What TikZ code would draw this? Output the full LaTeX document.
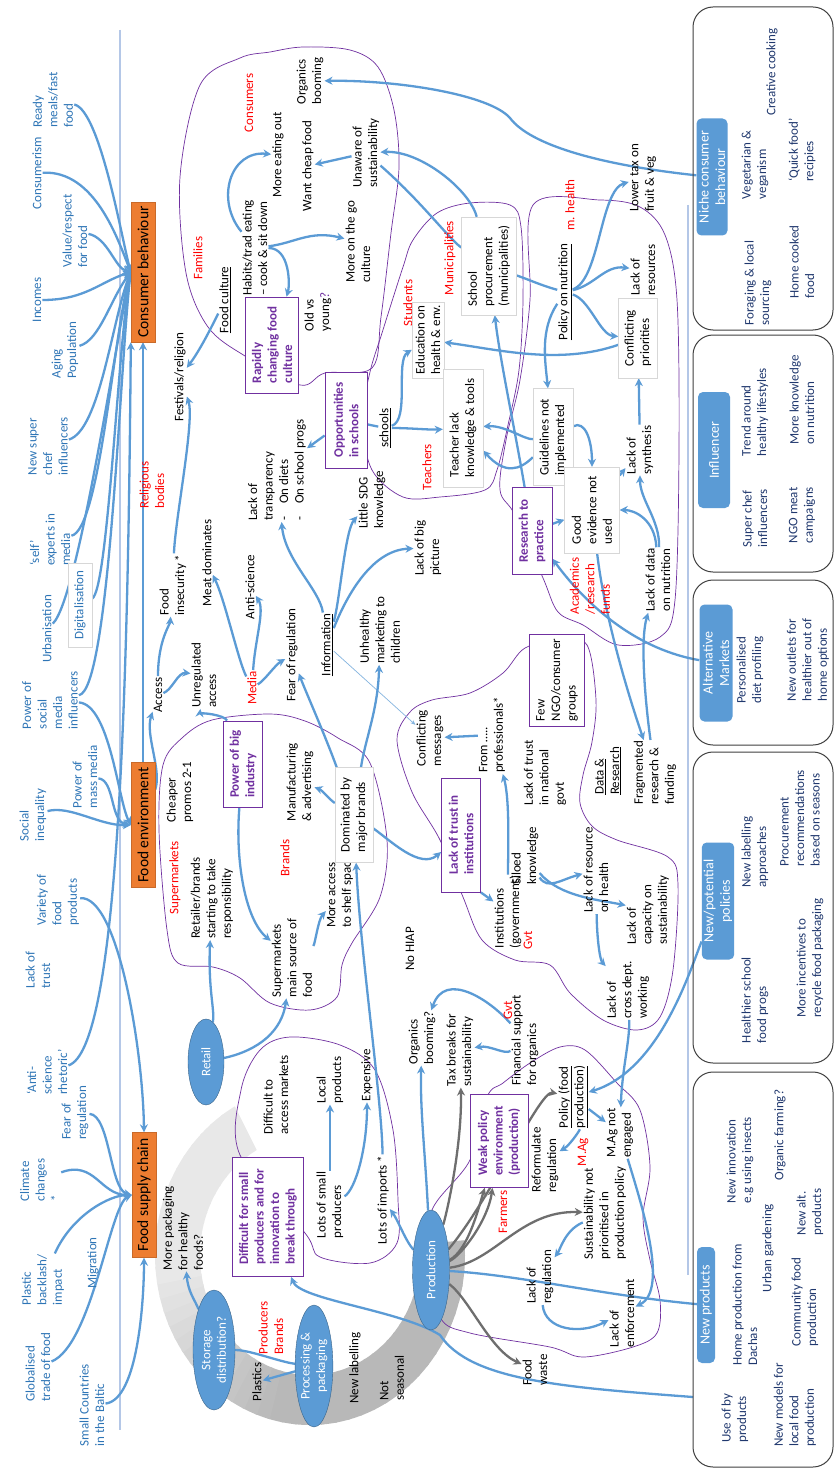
\documentclass[tikz,border=0pt]{standalone}
\usepackage{fontspec}
\setmainfont{Carlito}
\usepackage{tikz}
\usetikzlibrary{shapes.geometric}
\usetikzlibrary{positioning}
\usetikzlibrary{arrows.meta}

\definecolor{drvblue}{RGB}{46,117,182}
\definecolor{cblue}{RGB}{91,155,213}
\definecolor{hdr}{RGB}{91,155,213}
\definecolor{orng}{RGB}{237,125,49}
\definecolor{ppl}{RGB}{112,48,160}
\definecolor{navy}{RGB}{32,56,110}
\definecolor{boxgray}{RGB}{215,215,215}
\definecolor{garrow}{RGB}{110,110,110}
\definecolor{rulecol}{RGB}{180,199,231}

\newcommand{\txtsize}{\fontsize{13}{15.5}\selectfont}
\newcommand{\boxsize}{\fontsize{15.5}{18}\selectfont}
\newcommand{\hdrsize}{\fontsize{14}{16.5}\selectfont}

\pgfdeclarelayer{band}
\pgfdeclarelayer{links}
\pgfsetlayers{band,links,main}

\begin{document}
\begin{tikzpicture}[x=1pt,y=-1pt,>={Stealth[length=8pt,width=8pt]},
	every node/.style={font=\txtsize},
	lbl/.style={rotate=90,align=left,inner sep=1pt},
	drv/.style={lbl,text=drvblue},
	actor/.style={lbl,text=red},
	plain/.style={lbl,draw=boxgray,fill=white,inner sep=3pt},
	issue/.style={lbl,draw=ppl,fill=white,text=ppl,font=\txtsize\bfseries,inner sep=3pt,line width=0.8pt},
	sector/.style={rotate=90,fill=orng,draw=orng!85!black,font=\boxsize,minimum height=24pt,inner sep=1pt},
	stage/.style={ellipse,rotate=90,fill=hdr,draw=hdr!65!black,text=white,align=center,inner sep=0pt},
	hdrbox/.style={rotate=90,fill=hdr,rounded corners=5pt,text=white,align=center,font=\hdrsize,inner sep=2pt},
	item/.style={lbl,text=navy},
	panel/.style={draw=black!75,line width=1pt,rounded corners=20pt},
	blob/.style={draw=ppl,line width=0.7pt},
	link/.style={->,draw=cblue,line width=2.3pt},
	glink/.style={->,draw=garrow,line width=2.3pt}]

	\useasboundingbox (0,0) rectangle (835,1471);

	\node[drv] (consum) at (37,173) {Consumerism};
	\node[drv] (ready) at (53,100) {Ready\\meals/fast\\food};
	\node[drv] (value) at (75,231) {Value/respect\\for food};
	\node[drv] (income) at (37,300) {Incomes};
	\node[drv] (aging) at (65,350) {Aging\\Population};
	\node[drv] (chef) at (48,446) {New super\\chef\\influencers};
	\node[drv] (self) at (50,540) {‘self’\\experts in\\media};
	\node[drv] (urban) at (47,629) {Urbanisation};
	\node[plain,text=drvblue,minimum width=84pt,minimum height=24pt] (digit) at (80,605) {Digitalisation};
	\node[drv] (socmed) at (50,700) {Power of\\social\\media\\influencers};
	\node[drv] (massmed) at (85,777) {Power of\\mass media};
	\node[drv] (ineq) at (33,815) {Social\\inequality};
	\node[drv] (variety) at (58,900) {Variety of\\food\\products};
	\node[drv] (trust) at (38,970) {Lack of\\trust};
	\node[drv] (antisci) at (47,1072) {‘Anti-\\science\\rhetoric’};
	\node[drv] (fearreg) at (75,1113) {Fear of\\regulation};
	\node[drv] (climate) at (40,1180) {Climate\\changes\\*};
	\node[drv] (plastic) at (43,1280) {Plastic\\backlash/\\impact};
	\node[drv] (migr) at (93,1263) {Migration};
	\node[drv] (global) at (38,1367) {Globalised\\trade of food};
	\node[drv] (baltic) at (92,1405) {Small Countries\\in the Baltic};

	\node[sector,minimum width=140pt] (cb) at (143,272) {Consumer behaviour};
	\node[sector,minimum width=125pt] (fe) at (143,825) {Food environment};
	\node[sector,minimum width=125pt] (fsc) at (144,1195) {Food supply chain};

	\node[actor] (consumers) at (249,103) {Consumers};
	\node[lbl] (eatout) at (278,155) {More eating out};
	\node[lbl] (cheap) at (308,166) {Want cheap food};
	\node[lbl] (organics) at (310,81) {Organics\\booming};
	\node[lbl] (unaware) at (366,153) {Unaware of\\sustainability};
	\node[lbl] (onthego) at (358,242) {More on the go\\culture};
	\node[lbl] (habits) at (255,248) {Habits/trad eating\\– cook \& sit down};
	\node[actor] (families) at (198,258) {Families};
	\node[lbl] (foodcult) at (225,300) {\underline{Food culture}};
	\node[issue,minimum width=96pt,minimum height=53pt] (rapid) at (272,345) {Rapidly\\changing food\\culture};
	\node[lbl] (oldyoung) at (318,312) {Old vs\\young\textcolor{ppl}{?}};
	\node[lbl] (festival) at (180,377) {Festivals/religion};
	\node[actor] (religious) at (152,485) {Religious\\bodies};
	\node[lbl] (insecure) at (173,585) {Food\\insecurity *};
	\node[lbl] (meat) at (207,563) {Meat dominates};
	\node[lbl] (access) at (158,695) {Access};
	\node[lbl] (unreg) at (204,675) {Unregulated\\access};
	\node[actor] (media) at (252,688) {Media};
	\node[lbl] (antisc) at (250,587) {Anti-science};
	\node[lbl] (transp) at (277,470) {Lack of\\transparency\\-\quad On diets\\-\quad On school progs};
	\node[lbl] (fearreg2) at (292,655) {Fear of regulation};
	\node[lbl] (info) at (327,645) {\underline{Information}};
	\node[issue,minimum width=96pt,minimum height=42pt] (opp) at (346,420) {Opportunities\\in schools};
	\node[lbl] (schools) at (385,428) {\underline{schools}};
	\node[lbl] (sdg) at (372,500) {Little SDG\\knowledge};
	\node[lbl] (unhealthy) at (380,630) {Unhealthy\\marketing to\\children};
	\node[lbl] (bigpic) at (428,548) {Lack of big\\picture};

	\node[issue,minimum width=86pt,minimum height=39pt] (bigind) at (243,764) {Power of big\\industry};
	\node[lbl] (cheaper) at (180,792) {Cheaper\\promos 2-1};
	\node[actor] (supermk) at (175,878) {Supermarkets};
	\node[lbl] (retailer) at (212,898) {Retailer/brands\\starting to take\\responsibility};
	\node[lbl] (manuf) at (300,782) {Manufacturing\\\& advertising};
	\node[actor] (brands) at (285,858) {Brands};
	\node[lbl] (moreacc) at (340,895) {More access\\to shelf spac};
	\node[plain,minimum width=95pt,minimum height=38pt] (dominated) at (354,815) {Dominated by\\major brands};
	\node[lbl] (supmain) at (292,958) {Supermarkets\\main source of\\food};

	\node[issue,minimum width=114pt,minimum height=39pt] (lacktrust) at (461,835) {Lack of trust in\\institutions};
	\node[lbl] (conflict) at (430,738) {Conflicting\\messages};
	\node[lbl] (fromprof) at (492,735) {From …..\\professionals*};
	\node[lbl,draw=ppl,fill=white,inner sep=3pt,minimum width=92pt,minimum height=55pt] (fewngo) at (557,680) {Few\\NGO/consumer\\groups};
	\node[lbl] (trustgov) at (545,773) {Lack of trust\\in national\\govt};
	\node[lbl] (instit) at (508,912) {Institutions\\(government)};
	\node[lbl] (siloed) at (525,856) {Siloed\\knowledge};
	\node[actor] (gvta) at (528,940) {Gvt};
	\node[lbl] (resource) at (596,870) {Lack of resource\\on health};
	\node[lbl] (capacity) at (648,910) {Lack of\\capacity on\\sustainability};
	\node[lbl] (crossdept) at (628,990) {Lack of\\cross dept.\\working};
	\node[lbl] (datares) at (608,771) {\underline{Data \&}\\\underline{Research}};
	\node[lbl] (fragment) at (655,773) {Fragmented\\research \&\\funding};

	\node[lbl] (nohiap) at (410,949) {No HIAP};
	\node[lbl] (orgbm) at (422,1038) {Organics\\booming?};
	\node[lbl] (taxbr) at (460,1050) {Tax breaks for\\sustainability};
	\node[actor] (gvtb) at (508,1010) {Gvt};
	\node[lbl] (finsup) at (525,1040) {Financial support\\for organics};
	\node[lbl] (polprod) at (573,1097) {\underline{Policy (food}\\\underline{production)}};
	\node[issue,minimum width=93pt,minimum height=58pt] (weak) at (499,1141) {Weak policy\\environment\\(production)};
	\node[lbl] (reform) at (545,1160) {Reformulate\\regulation};
	\node[actor] (mag) at (583,1152) {M.Ag};
	\node[lbl] (magnot) at (620,1133) {M.Ag not\\engaged};
	\node[lbl] (sustnot) at (605,1213) {Sustainability not\\prioritised in\\production policy};
	\node[actor] (farmers) at (503,1212) {Farmers};
	\node[lbl] (lackreg) at (540,1277) {Lack of\\regulation};
	\node[lbl] (lackenf) at (622,1313) {Lack of\\enforcement};
	\node[lbl] (waste) at (535,1370) {Food\\waste};

	\node[stage,minimum width=120pt,minimum height=37pt] (prod) at (431,1270) {Production};
	\node[stage,minimum width=122pt,minimum height=36pt] (procpack) at (314,1366) {Processing \&\\packaging};
	\node[stage,minimum width=120pt,minimum height=42pt] (storage) at (214,1350) {Storage\\distribution?};
	\node[stage,minimum width=86pt,minimum height=36pt] (retail) at (206,1062) {Retail};
	\node[actor] (prodbrand) at (271,1328) {Producers\\Brands};
	\node[lbl] (plastics) at (257,1382) {Plastics};
	\node[lbl] (newlab) at (355,1368) {New labelling};
	\node[lbl] (notseas) at (392,1378) {Not\\seasonal};
	\node[lbl] (morepack) at (183,1228) {More packaging\\for healthy\\foods?};
	\node[issue,minimum width=119pt,minimum height=71pt] (difficult) at (268,1217) {Difficult for small\\producers and for\\innovation to\\break through};
	\node[lbl] (diffacc) at (276,1095) {Difficult to\\access markets};
	\node[lbl] (local) at (330,1080) {Local\\products};
	\node[lbl] (expens) at (367,1075) {Expensive};
	\node[lbl] (lotssmall) at (330,1205) {Lots of small\\producers};
	\node[lbl] (imports) at (383,1200) {Lots of imports *};

	\node[actor] (municip) at (450,258) {Municipalities};
	\node[actor] (students) at (408,303) {Students};
	\node[plain,minimum width=98pt,minimum height=55pt] (schoolproc) at (489,266) {School\\procurement\\(municipalities)};
	\node[plain,minimum width=75pt,minimum height=32pt] (educ) at (428,340) {Education on\\health \& env.};
	\node[plain,minimum width=118pt,minimum height=40pt] (teacher) at (463,428) {Teacher lack\\knowledge \& tools};
	\node[actor] (teachers) at (427,467) {Teachers};
	\node[plain,minimum width=97pt,minimum height=40pt] (guide) at (553,437) {Guidelines not\\implemented};
	\node[issue,minimum width=87pt,minimum height=40pt] (research) at (532,531) {Research to\\practice};
	\node[plain,minimum width=86pt,minimum height=55pt] (goodev) at (592,510) {Good\\evidence not\\used};
	\node[lbl] (synth) at (640,450) {Lack of\\synthesis};
	\node[lbl] (lackdata) at (658,580) {Lack of data\\on nutrition};
	\node[actor] (academics) at (590,586) {Academics\\/research\\funds};
	\node[plain,minimum width=80pt,minimum height=39pt] (conflpri) at (638,338) {Conflicting\\priorities};
	\node[lbl] (polnut) at (565,292) {\underline{Policy on nutrition}};
	\node[actor] (mhealth) at (570,205) {m. health};
	\node[lbl] (lackres) at (643,270) {Lack of\\resources};
	\node[lbl] (lowtax) at (643,178) {Lower tax on\\fruit \& veg};

	\draw[panel] (693,7) rectangle (833,330);
	\draw[panel] (693,335) rectangle (833,572);
	\draw[panel] (693,580) rectangle (833,745);
	\draw[panel] (693,752) rectangle (833,1063);
	\draw[panel] (693,1072) rectangle (833,1467);
	\coordinate (useby) at (693,1397);

	\node[hdrbox,minimum width=117pt,minimum height=31pt] (niche) at (712,177) {Niche consumer\\behaviour};
	\node[item] at (758,283) {Foraging \& local\\sourcing};
	\node[item] at (802,262) {Home cooked\\food};
	\node[item] at (755,165) {Vegetarian \&\\veganism};
	\node[item] at (802,150) {‘Quick food’\\recipies};
	\node[item] at (772,72) {Creative cooking};

	\node[hdrbox,minimum width=116pt,minimum height=32pt] (influ) at (714,450) {Influencer};
	\node[item] at (755,412) {Trend around\\healthy lifestyles};
	\node[item] at (802,400) {More knowledge\\on nutrition};
	\node[item] at (755,518) {Super chef\\influencers};
	\node[item] at (802,515) {NGO meat\\campaigns};

	\node[hdrbox,minimum width=117pt,minimum height=33pt] (altmk) at (716,663) {Alternative\\Markets};
	\node[item] at (750,670) {Personalised\\diet profiling};
	\node[item] at (808,660) {New outlets for\\healthier out of\\home options};

	\node[hdrbox,minimum width=117pt,minimum height=32pt] (newpol) at (718,901) {New/potential\\policies};
	\node[item] at (755,1000) {Healthier school\\food progs};
	\node[item] at (755,852) {New labelling\\approaches};
	\node[item] at (800,818) {Procurement\\recommendations\\based on seasons};
	\node[item] at (810,958) {More incentives to\\recycle food packaging};

	\node[hdrbox,minimum width=116pt,minimum height=18pt] (newprod) at (706,1305) {New products};
	\node[item] at (740,1160) {New innovation\\e.g using insects};
	\node[item] at (780,1135) {Organic farming?};
	\node[item] at (768,1248) {Urban gardening};
	\node[item] at (810,1212) {New alt.\\products};
	\node[item] at (745,1305) {Home production from\\Dachas};
	\node[item] at (805,1302) {Community food\\production};
	\node[item] at (735,1418) {Use of by\\products};
	\node[item] at (795,1405) {New models for\\local food\\production};

	\begin{pgfonlayer}{band}
	\path[fill=white] (0,0) rectangle (835,1471);
	\begin{scope}[shift={(310,1255)}]
	\foreach \a in {-5,0,...,235}{
		\pgfmathsetmacro\b{\a+6}
		\pgfmathsetmacro\shd{\a<100 ? 28 : (\a>170 ? 9 : 28-(\a-100)*19/70)}
		\fill[black!\shd] (\a:155 and 170) arc[start angle=\a,end angle=\b,x radius=155,y radius=170]
			-- (\b:110 and 120) arc[start angle=\b,end angle=\a,x radius=110,y radius=120] -- cycle;
	}
	\end{scope}
	\draw[rulecol,line width=1.2pt] (120,30) -- (120,1430);
	\draw[rulecol,line width=1.2pt] (688,205) -- (688,1275);

	\draw[blob] plot[smooth cycle,tension=0.55] coordinates {(240,58) (200,85) (180,177) (186,273) (208,327) (245,356) (300,385) (325,373) (372,368) (381,317) (391,233) (399,167) (394,110) (378,67) (350,50) (303,47) (270,52)};
	\draw[blob] plot[smooth cycle,tension=0.55] coordinates {(163,765) (182,738) (212,720) (270,714) (305,721) (338,738) (370,763) (387,840) (380,897) (352,943) (342,965) (337,997) (310,1010) (270,1003) (240,978) (213,967) (178,963) (167,930) (159,830)};
	\draw[blob] plot[smooth cycle,tension=0.55] coordinates {(397,740) (410,712) (432,700) (470,693) (503,673) (525,648) (560,640) (587,645) (596,700) (592,742) (583,775) (580,803) (592,826) (617,840) (668,857) (678,885) (673,970) (660,1017) (637,1030) (603,1020) (570,993) (550,965) (515,960) (482,940) (463,897) (440,840) (412,792)};
	\draw[blob] plot[smooth cycle,tension=0.55] coordinates {(533,205) (600,200) (640,207) (665,235) (677,300) (679,450) (675,600) (660,637) (618,645) (583,625) (558,612) (543,578) (515,515) (500,490) (506,440) (520,380) (530,300)};
	\draw[blob] plot[smooth cycle,tension=0.55] coordinates {(413,240) (437,213) (470,203) (510,205) (521,227) (523,300) (519,370) (508,425) (497,470) (485,490) (440,497) (403,497) (372,470) (362,420) (370,372) (382,333) (403,267)};
	\draw[blob] plot[smooth cycle,tension=0.55] coordinates {(487,1097) (503,1083) (530,1063) (560,1047) (585,1050) (617,1083) (640,1110) (650,1167) (643,1217) (650,1260) (660,1300) (657,1333) (633,1347) (583,1357) (550,1347) (470,1333) (440,1317) (432,1260) (432,1210) (470,1160)};
	\draw[blob] plot[smooth cycle,tension=0.55] coordinates {(240,1155) (241,1090) (260,1050) (290,1037) (340,1045) (375,1070) (393,1130) (398,1200) (397,1243) (370,1263) (320,1257) (305,1233)};
	\end{pgfonlayer}

	\begin{pgfonlayer}{links}
	\draw[link] (ready) .. controls (100,110) and (122,240) .. (cb.north);
	\draw[link] (consum) .. controls (95,170) and (118,240) .. (cb.north);
	\draw[link] (value) .. controls (108,238) and (115,268) .. (cb.north);
	\draw[link] (income) .. controls (85,300) and (100,282) .. (cb.north);
	\draw[link] (aging) .. controls (100,340) and (110,300) .. (cb.north);
	\draw[link] (chef) .. controls (100,430) and (112,320) .. (cb.north);
	\draw[link] (self) .. controls (100,530) and (114,330) .. (cb.north);
	\draw[link] (urban) .. controls (78,600) and (116,340) .. (cb.north);
	\draw[link] (digit) .. controls (108,590) and (118,345) .. (cb.north);
	\draw[link] (socmed) .. controls (110,690) and (120,360) .. (cb.north);
	\draw[link] (socmed) .. controls (110,705) and (118,800) .. (fe.north);
	\draw[link] (massmed) .. controls (115,780) and (110,822) .. (fe.north);
	\draw[link] (ineq) .. controls (70,805) and (100,826) .. (fe.north);
	\draw[link] (antisci) .. controls (118,1050) and (128,700) .. (cb.north west);
	\draw[link] (fe.east) -- (cb.west);
	\draw[link] (variety) .. controls (118,895) and (143,1050) .. (fsc.east);
	\draw[link] (fearreg) .. controls (110,1115) and (110,1190) .. (fsc.north);
	\draw[link] (climate) .. controls (95,1160) and (100,1195) .. (fsc.north);
	\draw[link] (plastic) .. controls (72,1215) and (110,1195) .. (fsc.north);
	\draw[link] (global) .. controls (92,1345) and (110,1205) .. (fsc.north);
	\draw[link] (baltic) .. controls (138,1400) and (144,1300) .. (fsc.west);
	\draw[link] (fe) .. controls (162,770) and (145,735) .. (access);

	\draw[link] (habits) .. controls (215,200) and (230,150) .. (eatout);
	\draw[link] (habits) .. controls (295,243) and (310,230) .. (onthego);
	\draw[link] (habits) .. controls (290,248) and (290,285) .. (rapid);
	\draw[link] (unaware) -- (cheap);
	\draw[link] (schoolproc) .. controls (470,190) and (420,150) .. (unaware);
	\draw[cblue,line width=2.3pt] (unaware) .. controls (420,200) and (450,240) .. (schoolproc);
	\draw[link] (niche) .. controls (600,165) and (530,145) .. (510,118) .. controls (490,95) and (400,80) .. (organics);
	\draw[link] (foodcult) .. controls (210,330) and (200,350) .. (festival);
	\draw[link] (insecure) .. controls (175,520) and (195,420) .. (festival);
	\draw[link] (access) .. controls (158,640) and (170,625) .. (insecure);
	\draw[link] (access) .. controls (172,690) and (178,672) .. (unreg);
	\draw[link] (media) .. controls (238,660) and (225,600) .. (meat);
	\draw[link] (media) .. controls (255,640) and (265,610) .. (antisc);
	\draw[link] (media) .. controls (265,680) and (275,665) .. (fearreg2);
	\draw[link] (info) .. controls (320,590) and (285,560) .. (transp);
	\draw[link] (opp) -- (transp);
	\draw[cblue,line width=2.3pt] (opp) -- (schools);
	\draw[link] (schools) .. controls (410,428) and (430,430) .. (teacher);
	\draw[link] (schools) .. controls (410,420) and (395,360) .. (educ);
	\draw[link] (info) .. controls (340,600) and (345,530) .. (sdg);
	\draw[link] (info) .. controls (345,600) and (370,550) .. (bigpic);
	\draw[->,cblue!75,line width=0.7pt,>={Stealth[length=5pt,width=4pt]}] (info) -- (conflict);

	\draw[link] (dominated) .. controls (365,740) and (378,710) .. (unhealthy);
	\draw[link] (dominated) .. controls (325,735) and (305,690) .. (fearreg2);
	\draw[link] (dominated) .. controls (330,800) and (322,790) .. (manuf);
	\draw[link] (dominated) .. controls (390,840) and (420,870) .. (lacktrust);
	\draw[link] (lacktrust.south west) -- (instit);
	\draw[link] (imports) .. controls (382,1100) and (360,950) .. (dominated);
	\draw[link] (bigind) .. controls (225,715) and (200,712) .. (unreg);
	\draw[link] (bigind) .. controls (235,860) and (245,920) .. (supmain);
	\draw[link] (supmain) .. controls (315,945) and (318,920) .. (moreacc);
	\draw[link] (retail) .. controls (260,1050) and (282,1030) .. (supmain);
	\draw[link] (retail) .. controls (215,1010) and (208,990) .. (retailer);

	\draw[link] (fromprof) -- (conflict);
	\draw[link] (instit) .. controls (508,850) and (510,800) .. (fromprof);
	\draw[link] (siloed) .. controls (548,890) and (560,880) .. (resource);
	\draw[link] (siloed) .. controls (560,897) and (600,900) .. (capacity);
	\draw[link] (resource) .. controls (597,940) and (600,960) .. (crossdept);
	\draw[link] (crossdept) .. controls (630,1040) and (622,1070) .. (magnot);
	\draw[link] (goodev) .. controls (605,620) and (630,700) .. (fragment);
	\draw[link] (fragment) .. controls (645,700) and (640,640) .. (lackdata);

	\draw[link] (finsup) .. controls (490,1000) and (445,970) .. (orgbm);
	\draw[link] (finsup) .. controls (505,1055) and (490,1045) .. (taxbr);
	\draw[link] (prod) .. controls (425,1150) and (420,1110) .. (orgbm);
	\draw[link] (prod) .. controls (405,1240) and (398,1220) .. (imports);
	\draw[glink] (prod) .. controls (450,1200) and (462,1140) .. (taxbr);
	\draw[glink] (prod) .. controls (468,1250) and (478,1210) .. (weak);
	\draw[glink] (prod) .. controls (462,1255) and (488,1220) .. (weak);
	\draw[glink] (prod) .. controls (490,1200) and (540,1090) .. (polprod);
	\draw[glink] (prod) .. controls (495,1262) and (520,1210) .. (sustnot);
	\draw[glink] (prod) .. controls (470,1300) and (490,1350) .. (waste);
	\draw[cblue,line width=2.3pt] (prod) .. controls (520,1275) and (600,1295) .. (newprod);
	\draw[link] (magnot) .. controls (640,1200) and (670,1290) .. (lackenf);
	\draw[link] (useby) .. controls (560,1387) and (470,1380) .. (440,1335) .. controls (400,1310) and (300,1300) .. (difficult);
	\draw[link] (storage) .. controls (195,1300) and (188,1292) .. (morepack);
	\draw[cblue,line width=2.3pt] (storage) .. controls (250,1350) and (280,1362) .. (procpack);
	\draw[link] (procpack) -- (plastics);
	\draw[link] (lotssmall) -- (local);
	\draw[link] (lotssmall) .. controls (355,1190) and (367,1150) .. (expens);
	\draw[link] (lackreg) .. controls (545,1330) and (580,1335) .. (lackenf);
	\draw[link] (sustnot) .. controls (565,1230) and (560,1250) .. (lackreg);
	\draw[link] (polprod) .. controls (580,1130) and (570,1145) .. (reform);
	\draw[link] (polprod) -- (magnot);
	\draw[link] (newpol) .. controls (690,970) and (660,1070) .. (polprod);

	\draw[link] (altmk) .. controls (640,650) and (590,610) .. (research);
	\draw[link] (research) -- (goodev);
	\draw[link] (research) .. controls (515,430) and (500,360) .. (schoolproc);
	\draw[link] (guide) .. controls (525,440) and (505,425) .. (teacher);
	\draw[link] (guide) .. controls (520,470) and (505,475) .. (teacher);
	\draw[link] (guide) .. controls (585,420) and (592,440) .. (goodev);
	\draw[link] (polnut) .. controls (540,330) and (545,360) .. (guide);
	\draw[cblue,line width=2.3pt] (polnut) .. controls (540,285) and (530,280) .. (schoolproc);
	\draw[link] (polnut) .. controls (600,280) and (600,190) .. (lowtax);
	\draw[link] (polnut) .. controls (595,285) and (605,265) .. (lackres);
	\draw[link] (polnut) .. controls (590,300) and (600,335) .. (conflpri);
	\draw[link] (conflpri) .. controls (560,365) and (500,350) .. (educ);
	\draw[link] (lackdata) .. controls (655,520) and (635,510) .. (goodev);
	\draw[link] (lackdata) .. controls (660,520) and (640,500) .. (synth);
	\draw[link] (synth) -- (conflpri);
	\draw[link] (goodev) -- (synth);
	\end{pgfonlayer}
\end{tikzpicture}
\end{document}
